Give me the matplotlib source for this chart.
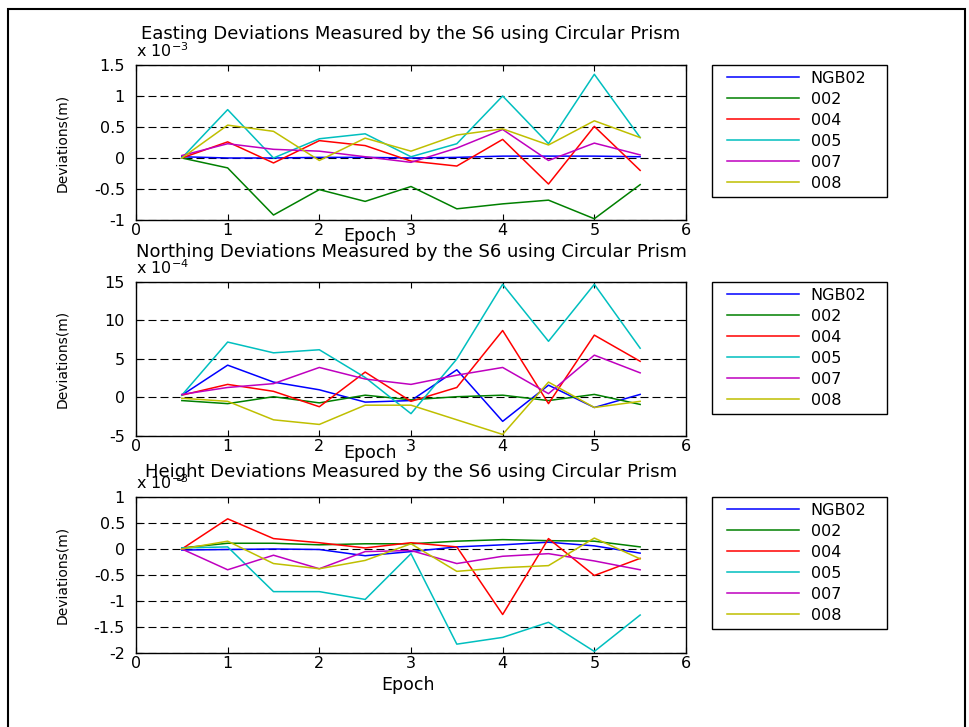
import numpy as np
import matplotlib
matplotlib.use("Agg")
import matplotlib.pyplot as plt
from matplotlib.lines import Line2D
from matplotlib.legend_handler import HandlerLine2D
from matplotlib.ticker import FuncFormatter
from matplotlib import transforms
from matplotlib.patches import Rectangle

plt.rcParams['font.family'] = ['DejaVu Sans']

epochs = [0.5, 1.0, 1.5, 2.0, 2.5, 3.0, 3.5, 4.0, 4.5, 5.0, 5.5]
stations = ["NGB02", "002", "004", "005", "007", "008"]

# Easting deviations (x 1e-3 m)
east_scale = 1e-3
east_ngb02 = [0.02, 0.00, 0.00, 0.01, 0.01, 0.00, 0.01, 0.03, 0.03, 0.03, 0.02]
east_002 = [0.00, -0.16, -0.92, -0.51, -0.70, -0.46, -0.82, -0.74, -0.68, -0.98, -0.43]
east_004 = [0.00, 0.26, -0.08, 0.28, 0.20, -0.05, -0.13, 0.30, -0.42, 0.51, -0.20]
east_005 = [0.00, 0.78, 0.00, 0.31, 0.39, 0.02, 0.23, 1.00, 0.23, 1.35, 0.33]
east_007 = [0.04, 0.23, 0.14, 0.11, 0.02, -0.07, 0.16, 0.46, -0.04, 0.24, 0.05]
east_008 = [0.00, 0.53, 0.43, -0.04, 0.32, 0.11, 0.37, 0.47, 0.21, 0.60, 0.33]

# Northing deviations (x 1e-4 m)
north_scale = 1e-4
north_ngb02 = [0.3, 4.2, 2.0, 1.0, -0.6, -0.4, 3.6, -3.1, 1.6, -1.3, 0.4]
north_002 = [-0.4, -0.8, 0.1, -0.7, 0.3, -0.3, 0.1, 0.3, -0.4, 0.4, -0.9]
north_004 = [0.3, 1.7, 0.8, -1.2, 3.3, -0.5, 1.3, 8.7, -0.8, 8.1, 4.7]
north_005 = [0.3, 7.2, 5.8, 6.2, 2.6, -2.1, 5.0, 14.7, 7.3, 14.7, 6.4]
north_007 = [0.4, 1.3, 1.8, 3.9, 2.4, 1.7, 2.9, 3.9, 0.5, 5.5, 3.2]
north_008 = [-0.1, -0.5, -2.9, -3.5, -1.0, -1.0, -2.9, -4.8, 2.0, -1.3, -0.5]

# Height deviations (x 1e-3 m)
height_scale = 1e-3
height_ngb02 = [-0.02, -0.01, 0.00, -0.01, -0.13, -0.05, 0.04, 0.08, 0.13, 0.06, -0.08]
height_002 = [0.02, 0.11, 0.11, 0.08, 0.10, 0.10, 0.15, 0.18, 0.16, 0.15, 0.04]
height_004 = [0.00, 0.58, 0.20, 0.12, 0.02, 0.12, 0.04, -1.26, 0.20, -0.51, -0.18]
height_005 = [0.02, 0.04, -0.82, -0.82, -0.97, -0.09, -1.83, -1.70, -1.41, -1.97, -1.27]
height_007 = [0.00, -0.40, -0.12, -0.38, -0.05, -0.03, -0.28, -0.14, -0.09, -0.23, -0.40]
height_008 = [0.00, 0.15, -0.28, -0.38, -0.22, 0.10, -0.43, -0.36, -0.32, 0.21, -0.19]

colors = [(0, 0, 1), (0, 0.5, 0), (1, 0, 0), (0, 0.75, 0.75), (0.75, 0, 0.75), (0.75, 0.75, 0)]

panels = [
    dict(title="Easting Deviations Measured by the S6 using Circular Prism",
         series=[east_ngb02, east_002, east_004, east_005, east_007, east_008],
         scale=east_scale, exp="-3", ylim=(-1, 1.5), yticks=[-1, -0.5, 0, 0.5, 1, 1.5],
         pos=[0.1402, 0.6974, 0.567, 0.2132], tpad=18.7, xl=(0.425, -0.135)),
    dict(title="Northing Deviations Measured by the S6 using Circular Prism",
         series=[north_ngb02, north_002, north_004, north_005, north_007, north_008],
         scale=north_scale, exp="-4", ylim=(-5, 15), yticks=[-5, 0, 5, 10, 15],
         pos=[0.1402, 0.4003, 0.567, 0.2118], tpad=18.0, xl=(0.425, -0.143)),
    dict(title="Height Deviations Measured by the S6 using Circular Prism",
         series=[height_ngb02, height_002, height_004, height_005, height_007, height_008],
         scale=height_scale, exp="-3", ylim=(-2, 1), yticks=[-2, -1.5, -1, -0.5, 0, 0.5, 1],
         pos=[0.1402, 0.1018, 0.567, 0.2146], tpad=14.4, xl=(0.4945, -0.237)),
]

fig = plt.figure(figsize=(9.7, 7.27), dpi=100)

for p in panels:
    ax = fig.add_axes(p["pos"])
    sc = p["scale"]
    lines = []
    for vals, col, name in zip(p["series"], colors, stations):
        ln, = ax.plot(epochs, np.array(vals) * sc, color=col, lw=1.1, label=name)
        lines.append(ln)
    ax.set_xlim(0, 6)
    ax.set_xticks([0, 1, 2, 3, 4, 5, 6])
    ax.set_ylim(p["ylim"][0] * sc, p["ylim"][1] * sc)
    ax.set_yticks(np.array(p["yticks"]) * sc)
    ax.yaxis.set_major_formatter(FuncFormatter(
        lambda v, pos, s=sc: "0" if abs(v / s) < 1e-9 else f"{round(v / s, 6):g}"))
    ax.tick_params(direction='in', top=True, right=True, length=4, width=0.8,
                   labelsize=11.5, colors='black')
    ax.tick_params(axis='x', pad=2)
    ax.tick_params(axis='y', pad=8)
    for s in ax.spines.values():
        s.set_linewidth(1.0)
    ax.yaxis.grid(True, linestyle=(0, (7.2, 3.6)), color='black', linewidth=0.8)
    ax.set_axisbelow(True)

    ax.set_title(p["title"], fontsize=13, pad=p["tpad"])
    ax.set_xlabel("Epoch", fontsize=12.5)
    ax.xaxis.label.set_va('baseline')
    ax.xaxis.set_label_coords(*p["xl"])
    ax.set_ylabel("Deviations(m)", fontsize=10)
    ax.yaxis.label.set_va('center')
    ax.yaxis.set_label_coords(-0.1345, 0.5)

    off = transforms.offset_copy(ax.transAxes, fig=fig, x=0, y=8, units='dots')
    ax.text(0.0, 1.0, r"x 10$^{%s}$" % p["exp"], transform=off, fontsize=11.5,
            ha='left', va='baseline')

    leg = ax.legend(lines, stations, loc='upper left',
                    bbox_to_anchor=(1.047, 0.0, 0.318, 1.0), bbox_transform=ax.transAxes,
                    mode='expand', borderaxespad=0, borderpad=0.35, labelspacing=0.38,
                    handlelength=5.13, handletextpad=0.72, fancybox=False,
                    edgecolor='black', framealpha=1, prop={'size': 11.5},
                    handler_map={Line2D: HandlerLine2D(xpad=0.6)})
    leg.get_frame().set_linewidth(1.0)

border = Rectangle((8 / 970, -0.02), (965 - 8) / 970, 1.02 - 9 / 727,
                   transform=fig.transFigure, fill=False, edgecolor='black',
                   linewidth=1.5, clip_on=False)
fig.add_artist(border)

fig.savefig("out.png", dpi=100)
